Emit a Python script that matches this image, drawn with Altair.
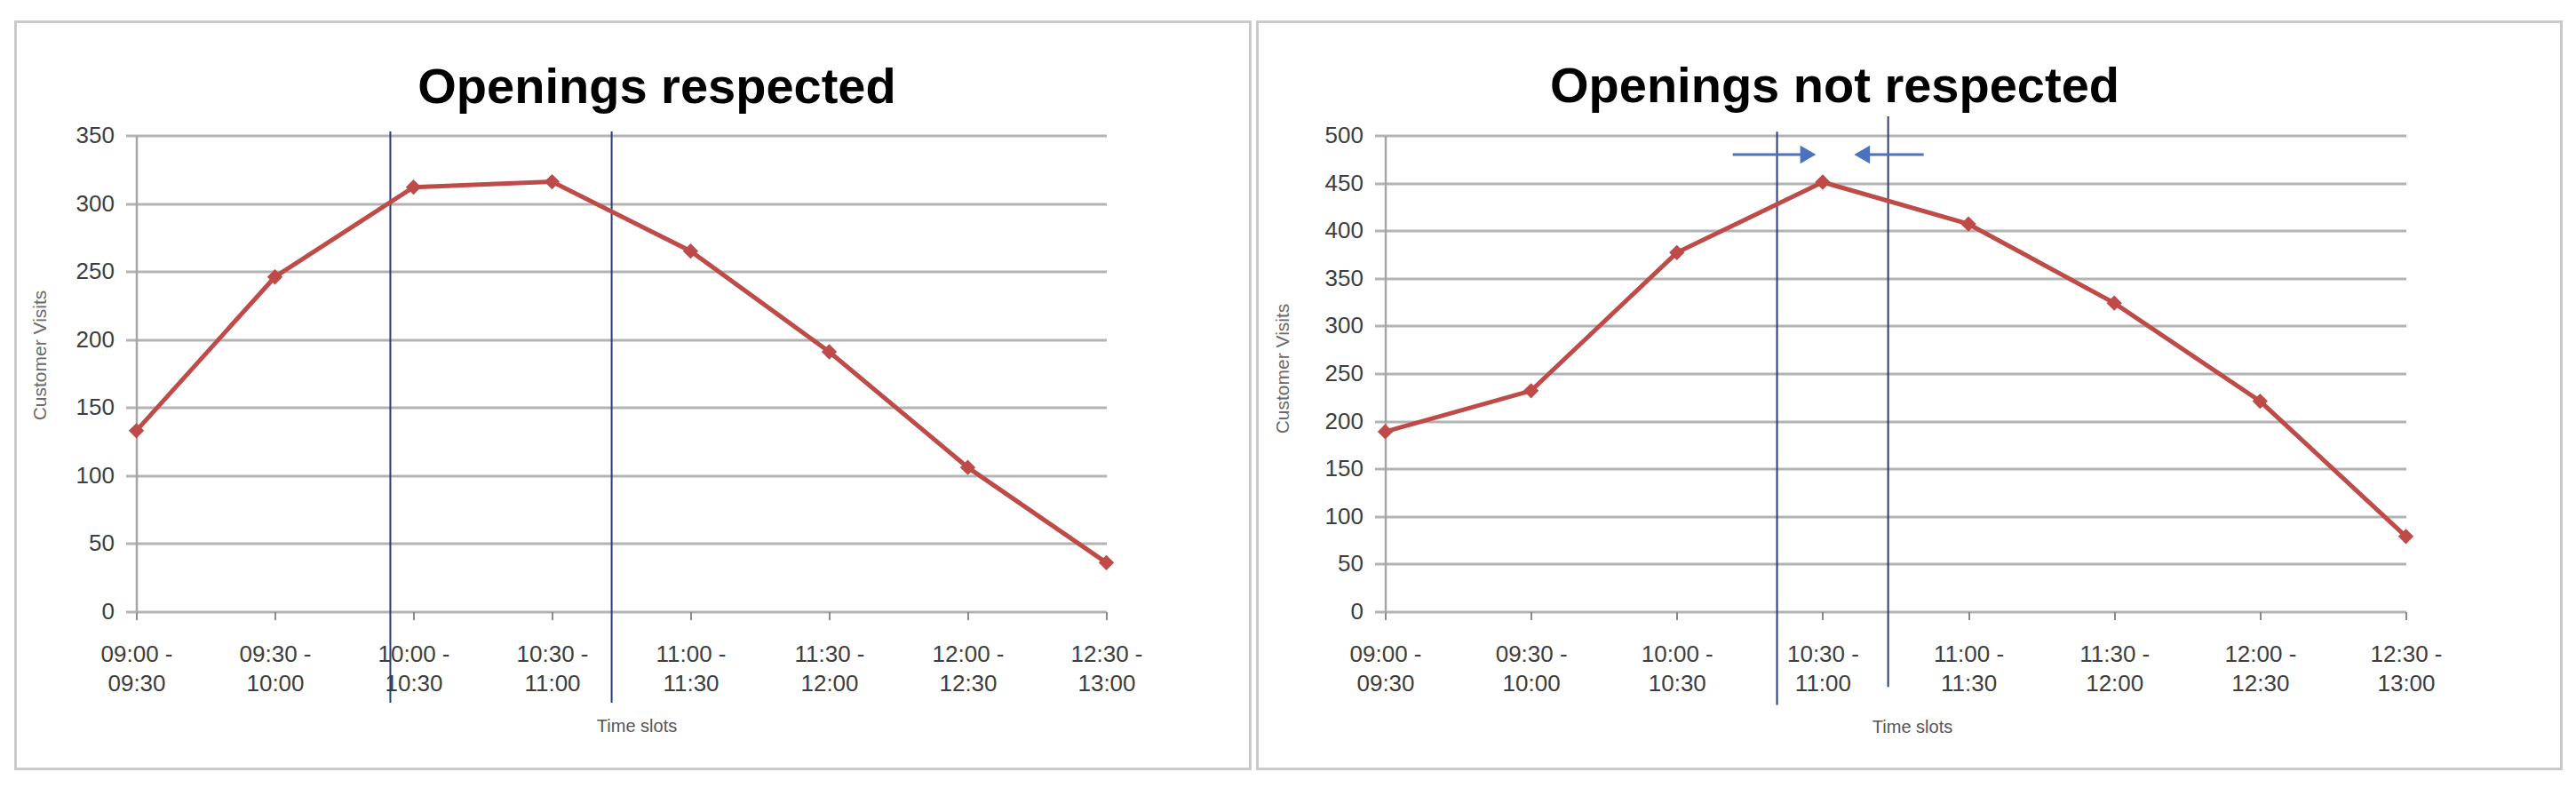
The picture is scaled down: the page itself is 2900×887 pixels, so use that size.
import altair as alt
import pandas as pd

# ---------------- data ----------------
slots = ["09:00 - 09:30", "09:30 - 10:00", "10:00 - 10:30", "10:30 - 11:00",
         "11:00 - 11:30", "11:30 - 12:00", "12:00 - 12:30", "12:30 - 13:00"]
visits_respected = [133, 246, 312, 316, 265, 191, 106, 36]
visits_not_respected = [189, 232, 377, 451, 407, 324, 221, 79]
panel_titles = ["Openings respected", "Openings not respected"]
y_ticks_left = [0, 50, 100, 150, 200, 250, 300, 350]
y_ticks_right = [0, 50, 100, 150, 200, 250, 300, 350, 400, 450, 500]

# opening-window markers (slot-index units on x, visit units on y)
open_left_x = [1.833, 3.43]
open_left_top = [353, 353]
open_left_bottom = [-67, -67]
open_right_x = [2.687, 3.449]
open_right_top = [504, 520]
open_right_bottom = [-98, -79]
# arrows pointing inwards (right panel)
arrow_y = [480, 480]
arrow_start = [2.383, 3.693]
arrow_end = [2.90, 3.27]
arrow_shape = ["triangle-right", "triangle-left"]

LINE_RED = "#BE4B48"
GRID = "#b3b3b3"
FONT = "Liberation Sans"

labels_js = "[" + ",".join(
    "['%s -','%s']" % tuple(s.split(" - ")) for s in slots) + "]"


def panel(values, yticks, w, h, vx, vtop, vbot, title, title_x, title_y,
          border, ytitle_xy, xtitle_xy, arrows=False):
    ymax = yticks[-1]
    df = pd.DataFrame({"idx": list(range(len(slots))), "slot": slots, "visits": values})
    xs = alt.Scale(domain=[0, len(slots) - 1], nice=False, zero=False)
    ys = alt.Scale(domain=[0, ymax], nice=False, zero=True)

    x_axis = alt.Axis(values=list(range(len(slots))), labelExpr=labels_js + "[datum.value]",
                      grid=False, domain=False, ticks=True, tickSize=9, tickWidth=2,
                      tickColor="#8a8a8a", labelFont=FONT, labelFontSize=26,
                      labelColor="#3d3d3d", labelPadding=26, labelLineHeight=33,
                      labelOverlap=False, labelFlush=False, labelBound=False,
                      title="Time slots", titleFont=FONT, titleFontSize=20,
                      titleFontWeight="normal", titleColor="#555555",
                      titleX=xtitle_xy[0], titleY=xtitle_xy[1],
                      titleAlign="center", titleBaseline="middle")
    y_axis = alt.Axis(values=yticks, grid=True, gridColor=GRID, gridWidth=3,
                      domain=True, domainColor="#a6a6a6", domainWidth=2.5,
                      ticks=True, tickSize=12, tickColor=GRID, tickWidth=3,
                      labelFont=FONT, labelFontSize=26, labelColor="#3d3d3d",
                      labelPadding=13, title="Customer Visits", titleFont=FONT,
                      titleFontSize=21, titleFontWeight="normal", titleColor="#6a6a6a",
                      titleX=ytitle_xy[0], titleY=ytitle_xy[1], titleAngle=270,
                      titleAlign="center", titleBaseline="middle")

    one = pd.DataFrame({"t": [title]})
    frame = alt.Chart(one).mark_rect(fillOpacity=0, stroke="#c9c9c9", strokeWidth=3).encode(
        x=alt.value(border[0]), x2=alt.value(border[1]),
        y=alt.value(border[2]), y2=alt.value(border[3]))
    ttl = alt.Chart(one).mark_text(font=FONT, fontSize=56, fontWeight="bold",
                                   color="#000000", align="center",
                                   baseline="alphabetic").encode(
        x=alt.value(title_x), y=alt.value(title_y), text="t:N")

    base = alt.Chart(df).encode(x=alt.X("idx:Q", scale=xs, axis=x_axis),
                                y=alt.Y("visits:Q", scale=ys, axis=y_axis))
    line = base.mark_line(color=LINE_RED, strokeWidth=5)
    pts = base.mark_point(shape="diamond", filled=True, size=300, color=LINE_RED, opacity=1)

    vdf = pd.DataFrame({"x": vx, "top": vtop, "bot": vbot})
    vlines = alt.Chart(vdf).mark_rule(color="#2C3B76", strokeWidth=2).encode(
        x=alt.X("x:Q", scale=xs, axis=x_axis),
        y=alt.Y("top:Q", scale=ys, axis=y_axis), y2="bot:Q")

    layers = [frame, ttl, vlines, line, pts]
    if arrows:
        adf = pd.DataFrame({"y": arrow_y, "x0": arrow_start, "x1": arrow_end,
                            "shape": arrow_shape})
        shafts = alt.Chart(adf).mark_rule(color="#4A72BE", strokeWidth=3).encode(
            x=alt.X("x0:Q", scale=xs, axis=x_axis), x2="x1:Q",
            y=alt.Y("y:Q", scale=ys, axis=y_axis))
        heads = alt.Chart(adf).mark_point(filled=True, size=420, color="#4A72BE",
                                          opacity=1).encode(
            x=alt.X("x1:Q", scale=xs, axis=x_axis),
            y=alt.Y("y:Q", scale=ys, axis=y_axis),
            shape=alt.Shape("shape:N", scale=None))
        layers += [shafts, heads]
    return alt.layer(*layers).properties(width=w, height=h)


left = panel(visits_respected, y_ticks_left, 1092, 536,
             open_left_x, open_left_top, open_left_bottom,
             panel_titles[0], 586, -37,
             (-136, 1254, -128, 713), (-108, 247), (563, 129))
right = panel(visits_not_respected, y_ticks_right, 1149, 536,
              open_right_x, open_right_top, open_right_bottom,
              panel_titles[1], 506, -38,
              (-144, 1324, -128, 713), (-115, 262), (593, 130), arrows=True)

chart = alt.hconcat(left, right, spacing=4).configure_view(stroke=None).properties(
    padding={"left": 7.5, "top": 14.5, "right": 5, "bottom": 5},
    background="white")

chart.save("out.html", embed_options={"renderer": "svg", "actions": False})
